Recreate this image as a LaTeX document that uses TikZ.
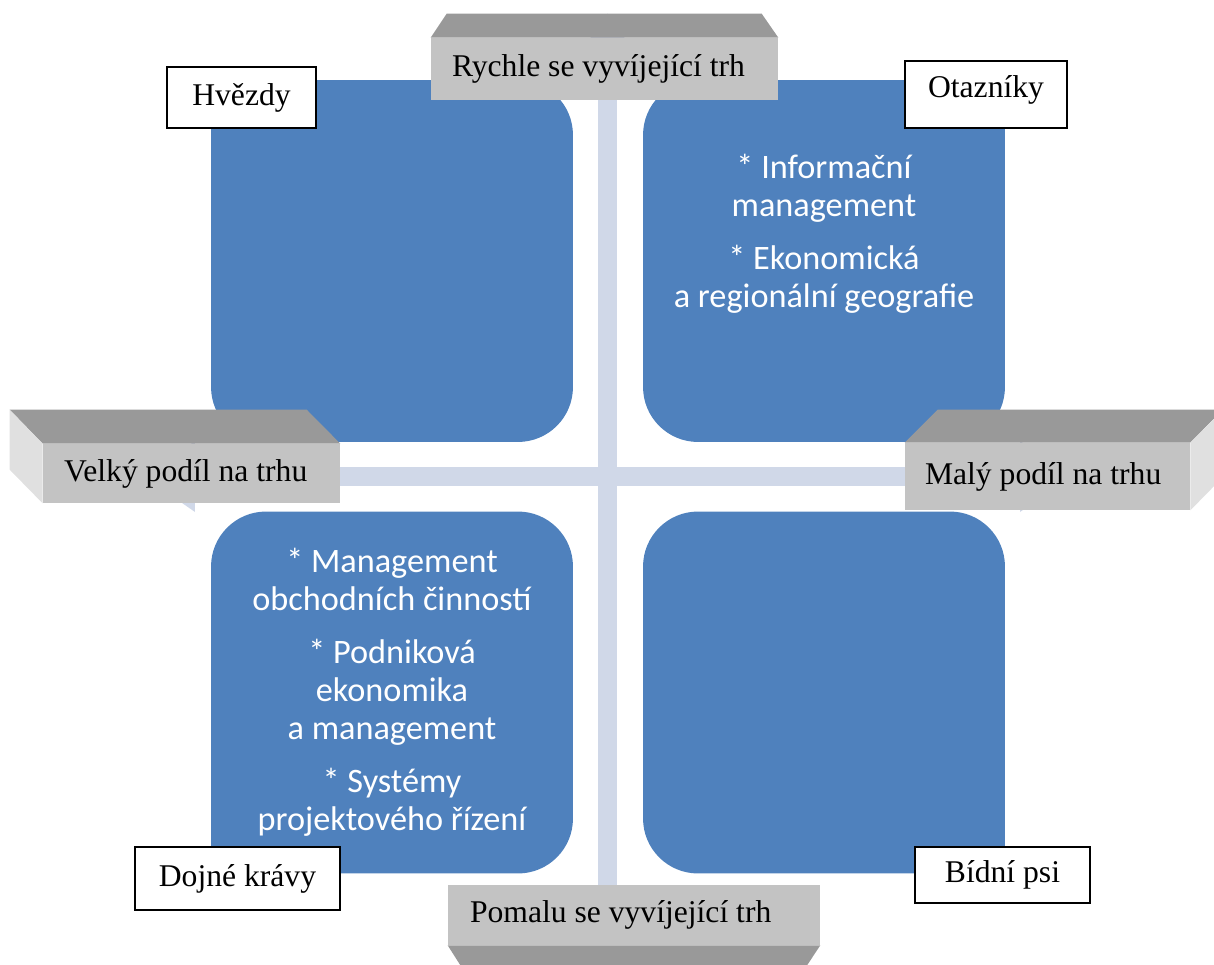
\documentclass[tikz,border=0pt]{standalone}
\usepackage{fontspec}
\setmainfont{Liberation Serif}
\newfontfamily\carlito{Carlito}
\usetikzlibrary{arrows.meta}
\definecolor{quadblue}{HTML}{4F81BD}
\definecolor{crossblue}{HTML}{D0D8E8}
\definecolor{bevtop}{HTML}{999999}
\definecolor{bevfront}{HTML}{C3C3C3}
\definecolor{bevside}{HTML}{E0E0E0}

\begin{document}
\begin{tikzpicture}[x=0.02cm, y=-0.02cm,
    crossbar/.style={draw=crossblue, line width=0.38cm,
      {Triangle[length=1.02cm, width=1.42cm, line width=0pt]}-{Triangle[length=1.02cm, width=1.42cm, line width=0pt]}},
    quad/.style={fill=quadblue, rounded corners=1.1cm, minimum size=7.24cm, inner sep=0pt},
    quadtext/.style={text=white, align=center, font=\carlito\fontsize{19.5}{21.6}\selectfont},
    front/.style={fill=bevfront, inner xsep=0pt, inner ysep=0pt, align=flush left,
      font=\fontsize{18}{21}\selectfont},
    namebox/.style={draw, fill=white, line width=0.03cm, font=\fontsize{18}{21}\selectfont}]
    \clip (0,0) rectangle (1214,964);

    \coordinate (north) at (607.5,13.5);
    \coordinate (south) at (607.5,939.5);
    \coordinate (west) at (144,476.5);
    \coordinate (east) at (1071,476.5);
    \draw[crossbar] (north) -- (south);
    \draw[crossbar] (west) -- (east);

    \node[quad] (q-stars) at (392,261) {};
    \fill[quadblue] (q-stars.north west) rectangle ++(60,60);
    \node[quad] (q-questions) at (824,261) {};
    \fill[quadblue] (q-questions.north east) rectangle ++(-60,60);
    \node[quad] (q-cows) at (392,692.5) {};
    \fill[quadblue] (q-cows.south west) rectangle ++(60,-60);
    \node[quad] (q-dogs) at (824,692.5) {};
    \fill[quadblue] (q-dogs.south east) rectangle ++(-60,-60);

    \node[quadtext] (t-questions) at (824,234)
      {* Informační\\management\\[8.5pt]* Ekonomická\\a regionální geografie};
    \node[quadtext] (t-cows) at (392,692)
      {* Management\\obchodních činností\\[8.5pt]* Podniková\\ekonomika\\a management\\[8.5pt]* Systémy\\projektového řízení};

    \node[front, text width=6.94cm, minimum height=1.24cm] (fast) at (604.5,69)
      {\hspace*{0.42cm}Rychle se vyvíjející trh};
    \fill[bevtop] (fast.north west) -- ++(16,-24) -- ++(315,0) -- (fast.north east) -- cycle;

    \node[front, text width=5.94cm, minimum height=1.18cm] (big) at (191.5,473.5)
      {\hspace*{0.42cm}Velký podíl na trhu};
    \fill[bevtop] (big.north west) -- ++(-33,-34) -- ++(297,0) -- (big.north east) -- cycle;
    \fill[bevside] (big.north west) -- ++(-33,-34) -- ++(0,60) -- (big.south west) -- cycle;

    \node[front, text width=5.70cm, minimum height=1.34cm] (small) at (1047.5,476.5)
      {\hspace*{0.40cm}Malý podíl na trhu};
    \fill[bevtop] (small.north west) -- ++(33,-33) -- ++(285,0) -- (small.north east) -- cycle;
    \fill[bevside] (small.north east) -- ++(33,-33) -- ++(0,67) -- (small.south east) -- cycle;

    \node[front, text width=7.44cm, minimum height=1.20cm] (slow) at (634,915)
      {\hspace*{0.44cm}Pomalu se vyvíjející trh};
    \fill[bevtop] (slow.south west) -- ++(14,22) -- ++(344,0) -- (slow.south east) -- cycle;

    \node[namebox, minimum width=2.98cm, minimum height=1.22cm] (stars) at (241.5,97.5) {Hvězdy};
    \node[namebox, minimum width=3.24cm, minimum height=1.34cm] (questions) at (986,94.5)
      {\raisebox{0.09cm}[\height][\depth]{Otazníky}};
    \node[namebox, minimum width=4.10cm, minimum height=1.26cm] (cows) at (237.5,878.5) {Dojné krávy};
    \node[namebox, minimum width=3.50cm, minimum height=1.12cm] (dogs) at (1002.5,875) {Bídní psi};
\end{tikzpicture}
\end{document}
